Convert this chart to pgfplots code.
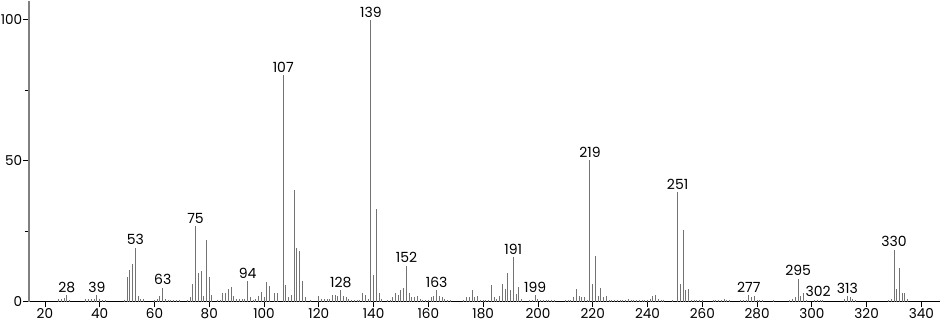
\documentclass[border=0pt]{standalone}
\usepackage{pgfplots}
\pgfplotsset{compat=1.18}
\usepackage{fontspec}
\setmainfont{Poppins}
\begin{document}
\begin{tikzpicture}
\begin{axis}[
  scale only axis,
  width=455.5pt, height=150.4pt,
  xmin=14.2, xmax=346.6, ymin=0, ymax=106.7,
  axis x line=bottom, axis y line=left,
  axis line style={-, line width=0.5pt},
  y axis line style={gray, line width=1pt},
  xtick={20,40,...,340}, ytick={0,50,100},
  minor ytick={25,75},
  tick align=outside,
  major tick length=2.8pt, minor tick length=2.2pt,
  tick style={black, line width=0.4pt},
  xticklabel style={font=\fontsize{6.8}{8}\selectfont, inner sep=0.6pt},
  yticklabel style={font=\fontsize{6.8}{8}\selectfont, inner sep=0.4pt},
  /pgf/number format/assume math mode=true,
  clip=false,
]
\addplot+[ycomb, no marks, color=black!55, line width=0.5pt] coordinates {
(25,1)(26,1)(27,1.2)(28,2.3)(29,0.7)
(35,0.8)(36,0.8)(37,0.8)(38,1)(39,2.3)(40,0.8)(41,0.7)(42,0.7)
(49,0.7)(50,8.7)(51,11.3)(52,13.2)(53,19.2)(54,2)(55,1)(56,1)
(60,0.5)(61,1)(62,2)(63,4.9)(64,0.8)(65,0.7)(66,0.7)(67,0.7)(68,0.7)(69,0.7)
(72,0.5)(73,1.5)(74,6.1)(75,26.8)(76,10)(77,10.7)(78,2)(79,22)(80,8.7)(81,2.3)
(83,0.7)(84,0.7)(85,3)(86,3)(87,4.5)(88,5.2)(89,2)(90,0.8)(91,0.8)(92,0.8)(93,0.8)
(94,7.3)(95,1.5)(96,0.5)(97,1)(98,2)(99,3.5)(100,1.5)(101,7.1)(102,5.6)(104,3)(105,3)
(107,80.3)(108,6)(109,1.5)(110,2.3)(111,39.5)(112,19.2)(113,18)(114,7.3)(115,1.5)(117,0.5)
(120,2)(121,1)(122,1)(123,1)(124,1)(125,2.5)(126,2.5)(127,2)(128,4)(129,2)(130,1.5)(131,1)
(132,0.7)(133,0.7)(134,0.7)(135,0.7)(136,3)(137,2.5)(138,1)
(139,100)(140,9.5)(141,33)(142,3)(143,1)(145,0.7)(146,0.7)(147,1.5)(148,3)(149,2.5)(150,4)(151,5)
(152,12.8)(153,3)(154,1.5)(155,1.5)(156,2)(157,1)(158,0.7)(159,0.7)(160,0.7)(161,1.5)(162,2)
(163,4.1)(164,2)(165,1.5)(166,1)(167,0.5)(168,0.5)
(173,0.5)(174,1.5)(175,1.5)(176,4.1)(177,1.5)(178,2)(179,0.5)(180,0.7)(181,0.7)(182,0.7)
(183,5.8)(184,1.5)(185,1)(186,2)(187,6.4)(188,4.4)(189,10)(190,4.1)(191,15.9)(192,2.8)(193,5.2)(194,1)
(197,0.5)(198,0.7)(199,2.3)(200,1)(201,0.7)(202,0.7)(203,0.7)(204,0.7)(205,0.7)(206,0.7)
(210,0.7)(211,0.7)(212,0.7)(213,1.5)(214,4.5)(215,2)(216,1.5)(217,1.5)(218,0.5)
(219,50.2)(220,6.3)(221,16.3)(222,2)(223,4.7)(224,1.5)(225,2)(226,0.7)(227,0.7)(228,0.7)(229,0.7)
(230,0.7)(231,0.7)(232,0.7)(233,0.8)(234,0.7)(235,0.7)(236,0.7)(237,0.7)(238,0.7)(239,0.7)(240,0.7)
(241,1)(242,2)(243,2.3)(244,1)(245,0.7)(246,0.7)(249,0.7)
(251,38.9)(252,6.3)(253,25.5)(254,4)(255,4.5)(256,0.7)(257,0.7)(258,0.7)(259,0.7)(260,0.7)
(264,0.7)(265,0.7)(266,0.7)(267,0.7)(268,0.8)(269,0.7)(270,0.7)
(274,0.7)(275,0.7)(276,0.7)(277,2.3)(278,1.5)(279,2)(280,0.7)(281,0.7)(282,0.5)(286,0.5)
(292,0.5)(293,1)(294,1.5)(295,8.1)(296,2)(297,3)(298,0.7)(301,0.7)(302,0.7)(303,0.7)(304,0.7)
(312,1)(313,2)(314,1.5)(315,1)(316,0.7)
(328,0.7)(329,1)(330,18.5)(331,4.5)(332,11.9)(333,3)(334,3)(335,1)
};
\foreach \m/\v in {28/2.3,39/2.3,53/19.2,63/4.9,75/26.8,94/7.3,107/80.3,128/4,139/100,152/12.8,163/4.1,191/15.9,199/2.3,219/50.2,251/38.9,277/2.3,295/8.1,313/2,330/18.5}{
  \edef\tmp{\noexpand\node[anchor=south, inner sep=1.2pt, font=\noexpand\fontsize{7}{8}\noexpand\selectfont] at (axis cs:\m,\v) {\m};}
  \tmp
}
\node[anchor=south, inner sep=1.2pt, font=\fontsize{7}{8}\selectfont] at (axis cs:302.3,0.7) {302};
\end{axis}
\path (current bounding box.south) ++(0,-0.8pt) coordinate (extra);
\end{tikzpicture}
\end{document}
